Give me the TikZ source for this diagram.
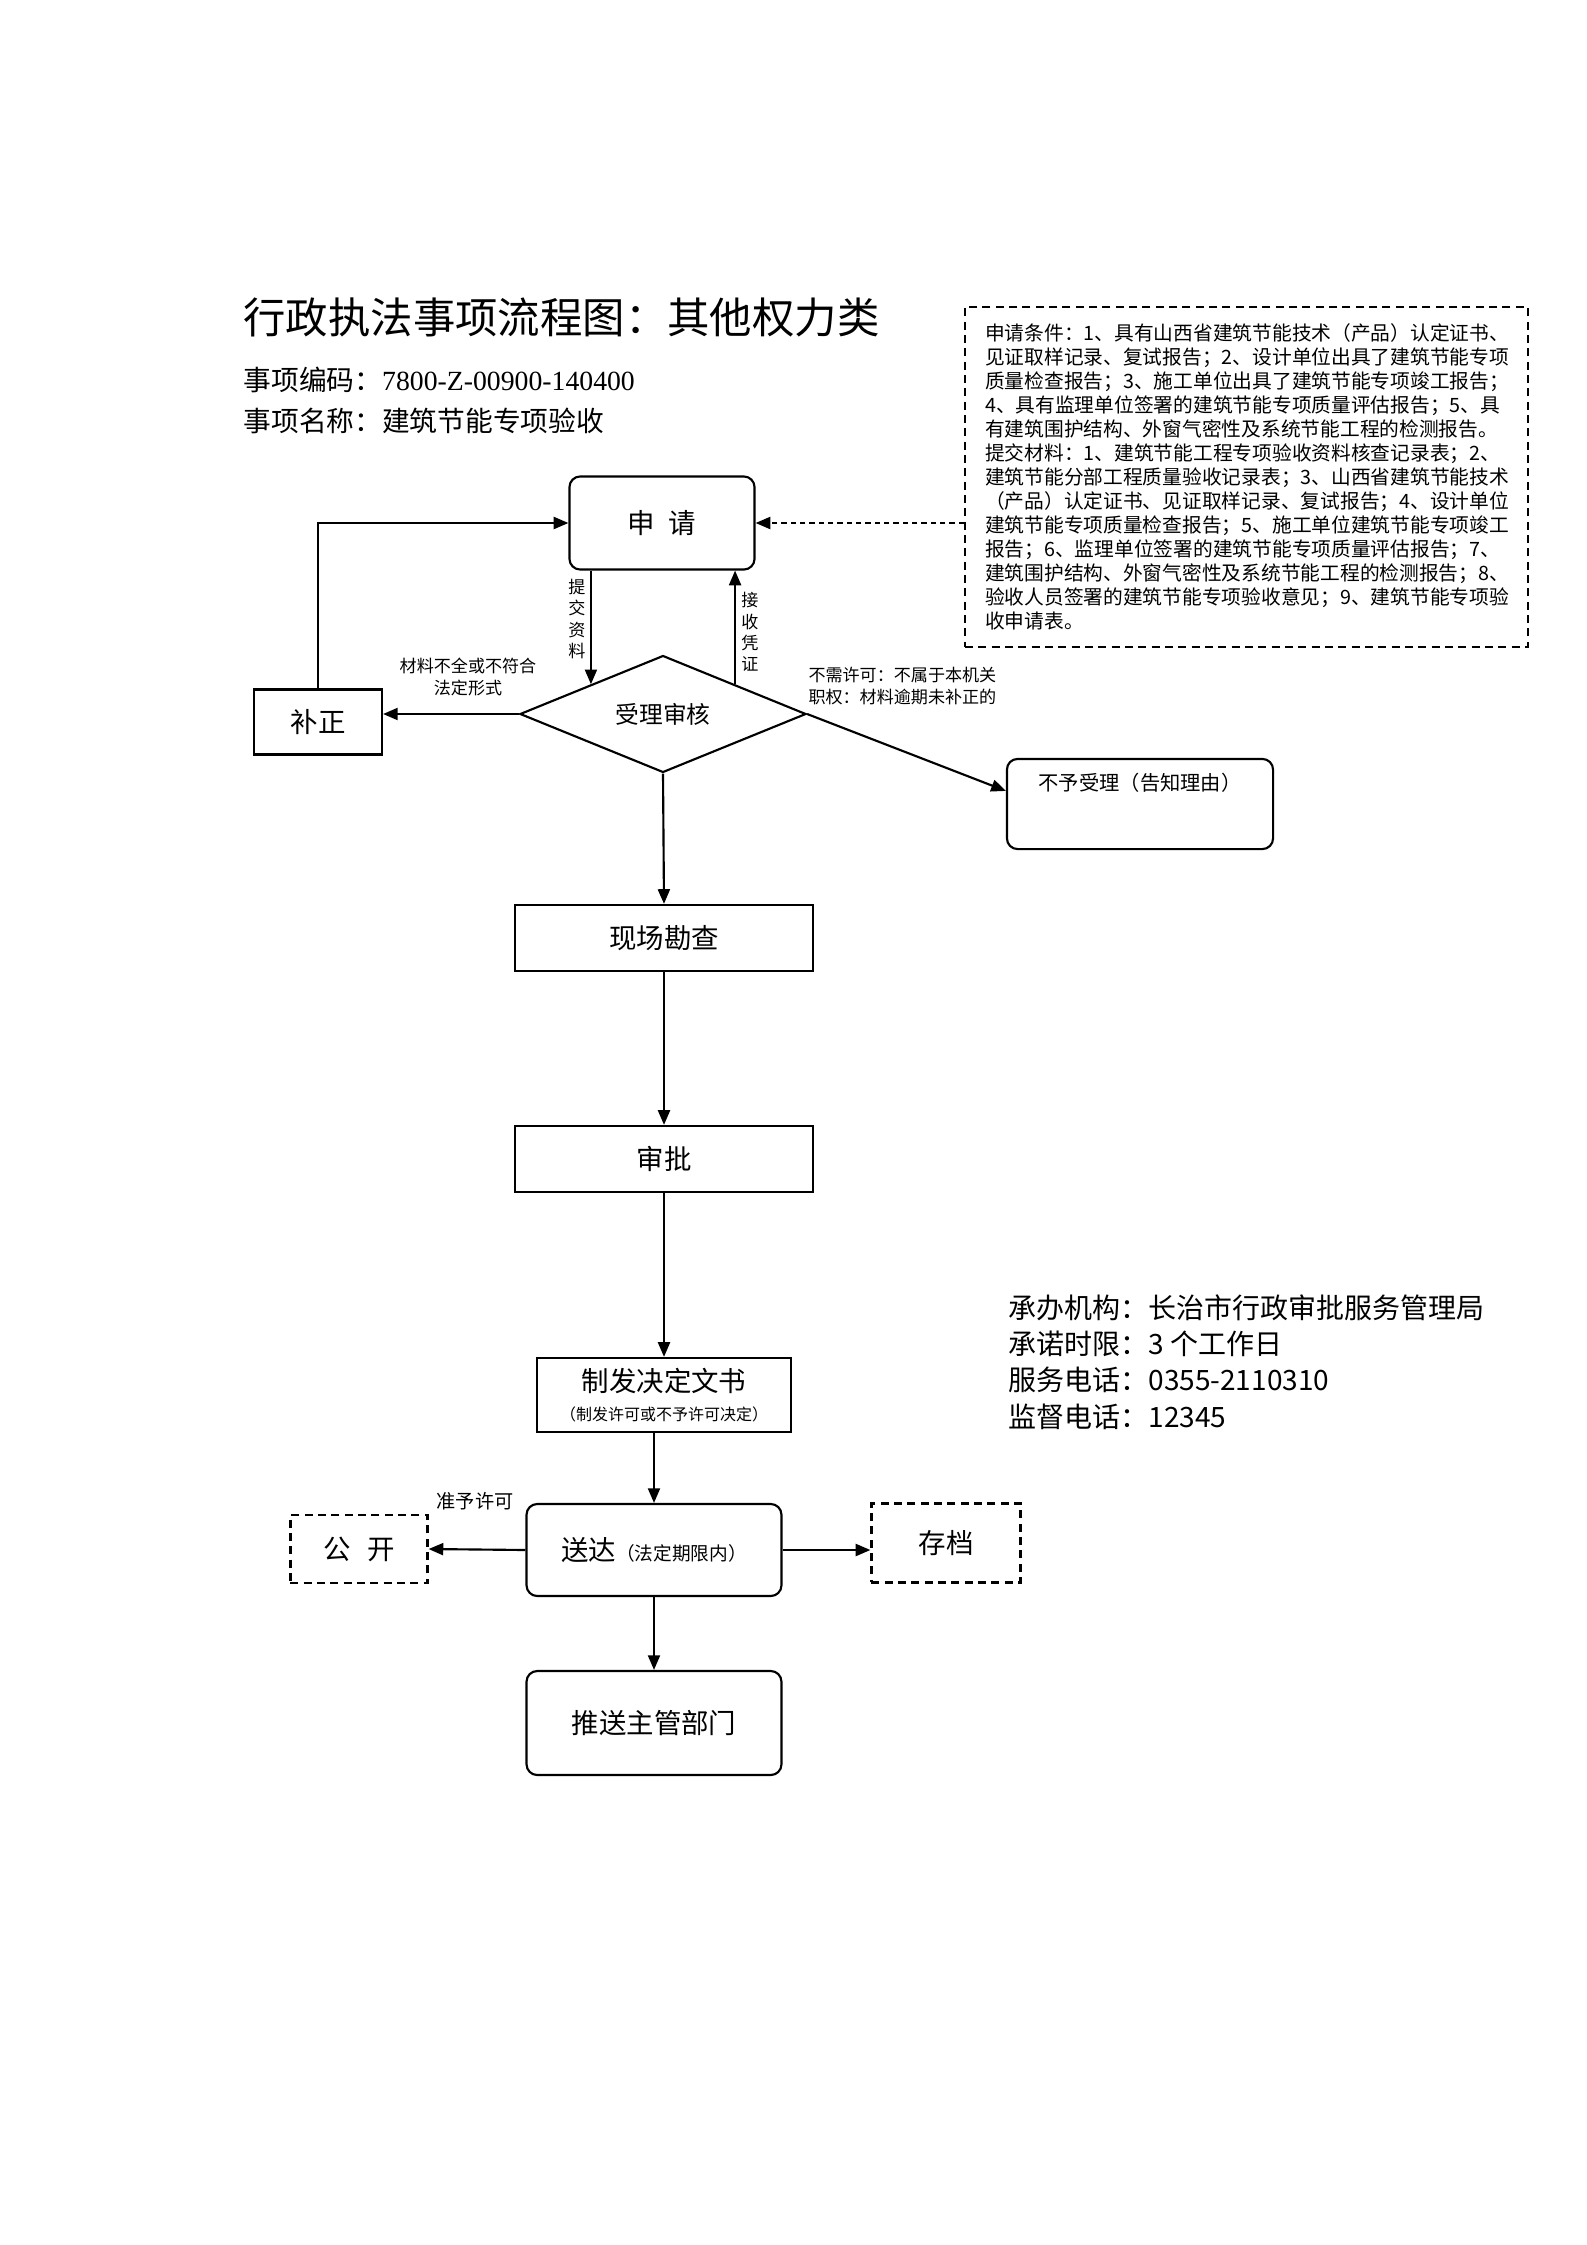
\documentclass[tikz,border=0pt]{standalone}
\usepackage{fontspec}
\setmainfont{Noto Sans CJK SC}
\newfontfamily\latinserif{Liberation Serif}
\usepackage{tikz}
\usetikzlibrary{arrows.meta,positioning,shapes.geometric,calc}

\begin{document}
\begin{tikzpicture}[
    x=0.375pt, y=-0.375pt,
    box/.style={draw, line width=0.8pt, inner sep=1pt, align=center, font=\fontsize{10.3pt}{12pt}\selectfont},
    rbox/.style={box, rounded corners=4pt},
    dbox/.style={box, dash pattern=on 3pt off 2pt},
    note/.style={font=\fontsize{6.4pt}{8pt}\selectfont, align=center, inner sep=0pt},
    info/.style={font=\fontsize{10.5pt}{12pt}\selectfont, anchor=west, inner sep=0pt},
    arr/.style={-{Triangle[length=5.5pt,width=4.5pt]}, line width=0.8pt}
]
\useasboundingbox (0,0) rectangle (1587,2245);

% Title block.
\node[anchor=west, inner sep=0pt, font=\fontsize{15.9pt}{18pt}\selectfont] (title) at (243,317) {行政执法事项流程图：其他权力类};
\node[info, font=\fontsize{10.4pt}{12pt}\selectfont] (code) at (243,380) {事项编码：{\latinserif 7800-Z-00900-140400}};
\node[info, font=\fontsize{10.4pt}{12pt}\selectfont] (name) at (243,421) {事项名称：建筑节能专项验收};

% Conditions and materials.
\node[dbox, anchor=north west, text width=196pt, inner xsep=7.5pt, minimum height=127.5pt, align=left,
      font=\fontsize{7.4pt}{9pt}\selectfont] (cond) at (964,306) {%
申请条件：1、具有山西省建筑节能技术（产品）认定证书、\\
见证取样记录、复试报告；2、设计单位出具了建筑节能专项\\
质量检查报告；3、施工单位出具了建筑节能专项竣工报告；\\
4、具有监理单位签署的建筑节能专项质量评估报告；5、具\\
有建筑围护结构、外窗气密性及系统节能工程的检测报告。\\
提交材料：1、建筑节能工程专项验收资料核查记录表；2、\\
建筑节能分部工程质量验收记录表；3、山西省建筑节能技术\\
（产品）认定证书、见证取样记录、复试报告；4、设计单位\\
建筑节能专项质量检查报告；5、施工单位建筑节能专项竣工\\
报告；6、监理单位签署的建筑节能专项质量评估报告；7、\\
建筑围护结构、外窗气密性及系统节能工程的检测报告；8、\\
验收人员签署的建筑节能专项验收意见；9、建筑节能专项验\\
收申请表。};

% Acceptance part.
\node[rbox, minimum width=69.4pt, minimum height=34.9pt] (apply) at (662,523) {申\hspace{0.5em}请};
\node[box, minimum width=48pt, minimum height=24.4pt] (fix) at (318,722) {补正};
\node[diamond, draw, line width=0.8pt, minimum width=107.3pt, minimum height=42.8pt, inner sep=0pt,
      font=\fontsize{8.9pt}{10pt}\selectfont] (chk) at (663,714) {受理审核};
\node[rbox, minimum width=99.8pt, inner ysep=5pt, text height=7pt, text depth=16.8pt,
      font=\fontsize{7.6pt}{9pt}\selectfont] (reject) at (1140,804) {不予受理（告知理由）};

% Main column.
\node[box, minimum width=111.8pt, minimum height=24.8pt] (site) at (664,938) {现场勘查};
\node[box, minimum width=111.8pt, minimum height=24.8pt] (approve) at (664,1159) {审批};
\node[box, minimum width=95.3pt, minimum height=27.8pt] (doc) at (664,1395) {制发决定文书\\[-1pt]{\fontsize{6pt}{7pt}\selectfont（制发许可或不予许可决定）}};
\node[rbox, minimum width=95.6pt, minimum height=34.5pt] (deliver) at (654,1550) {送达{\fontsize{7pt}{8pt}\selectfont（法定期限内）}};
\node[rbox, minimum width=95.6pt, minimum height=39pt] (push) at (654,1723) {推送主管部门};
\node[dbox, minimum width=51.4pt, minimum height=25.5pt] (pub) at (359,1549) {公\hspace{0.6em}开};
\node[dbox, minimum width=55.9pt, minimum height=29.6pt] (arch) at (946,1543) {存档};

% Connector labels.
\node[note] (lsub) at (577,619) {提\\交\\资\\料};
\node[note] (lrec) at (750,632) {接\\收\\凭\\证};
\node[note] (lfix) at (468,677) {材料不全或不符合\\法定形式};
\node[note, align=left, anchor=west] (lrej) at (808,686) {不需许可：不属于本机关\\职权：材料逾期未补正的};
\node[note, font=\fontsize{7.2pt}{8pt}\selectfont] (lpub) at (475,1501) {准予许可};

% Office info.
\node[info] (org) at (1008,1308) {承办机构：长治市行政审批服务管理局};
\node[info] (lim) at (1008,1344) {承诺时限：3 个工作日};
\node[info] (tel) at (1008,1380) {服务电话：0355-2110310};
\node[info] (sup) at (1008,1417) {监督电话：12345};

% Connectors.
\draw[arr, dash pattern=on 2pt off 1.5pt] (cond.west |- apply.east) -- (apply.east);
\draw[arr] (apply.south -| chk.north west) -- (chk.north west);
\draw[arr] (chk.north east) -- (chk.north east |- apply.south);
\draw[arr] (chk.west) -- (chk.west -| fix.east);
\draw[arr] (fix.north) |- (apply.west);
\draw[arr] (chk.east) -- (reject.base west);
\draw[arr] (chk.south) -- (site.north);
\draw[arr] (site.south) -- (approve.north);
\draw[arr] (approve.south) -- (doc.north);
\draw[arr] (doc.south -| deliver.north) -- (deliver.north);
\draw[arr] (deliver.west) -- (pub.east);
\draw[arr] (deliver.east) -- (deliver.east -| arch.west);
\draw[arr] (deliver.south) -- (push.north);
\end{tikzpicture}
\end{document}
